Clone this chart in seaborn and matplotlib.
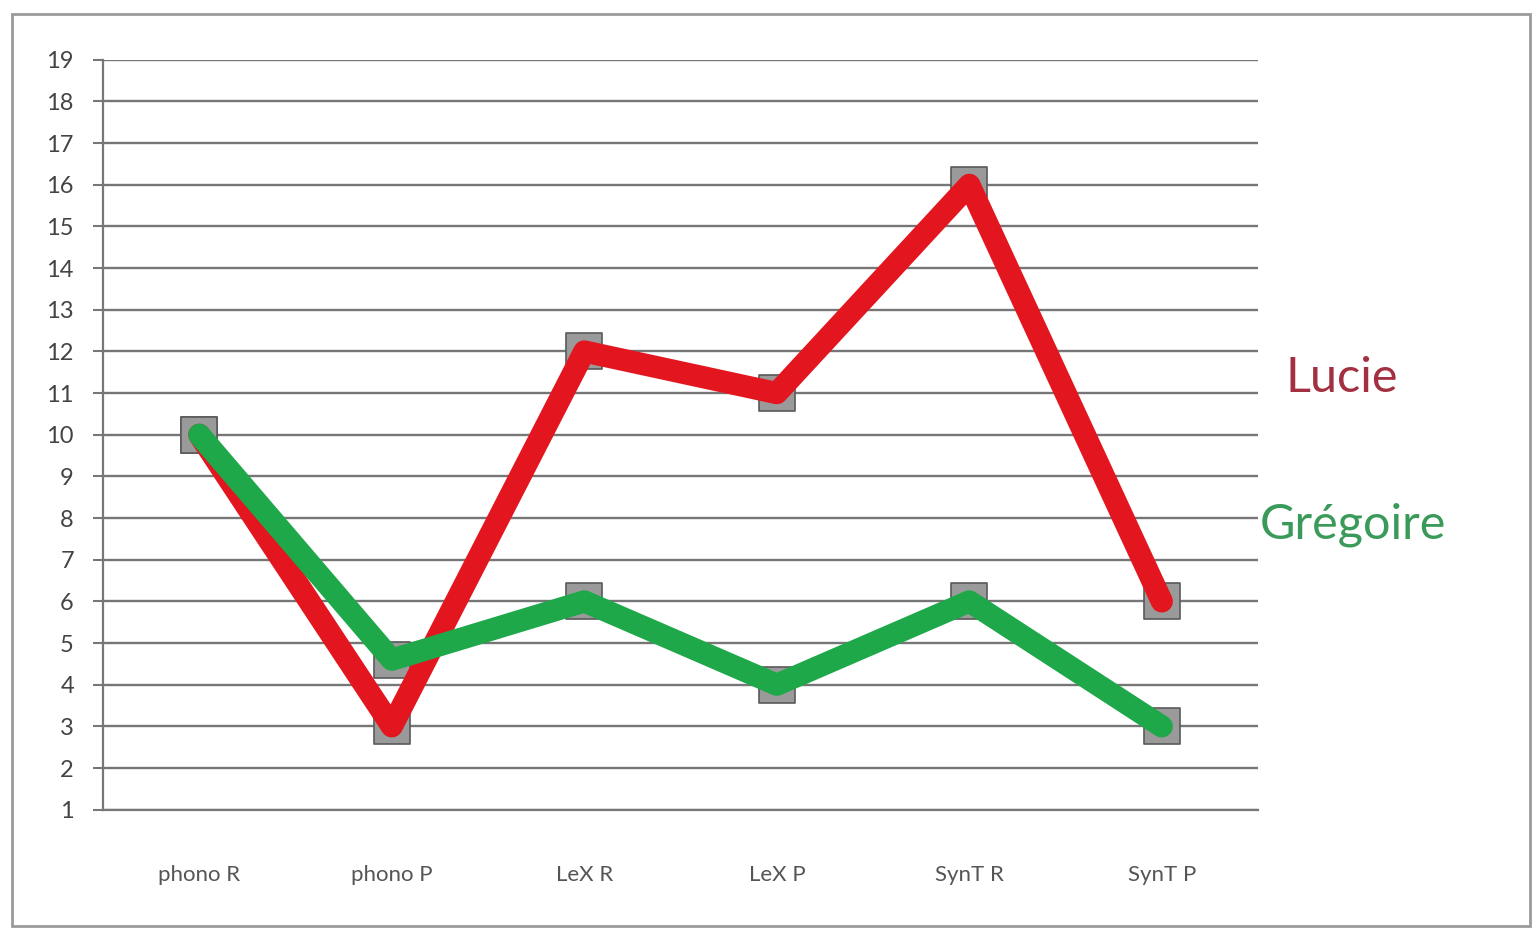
import matplotlib
matplotlib.use("Agg")
import matplotlib.pyplot as plt
from matplotlib.patches import Rectangle
from matplotlib.ticker import MultipleLocator, FixedLocator
import pandas as pd
import seaborn as sns

# Scores per exercise
categories = ["phono R", "phono P", "LeX R", "LeX P", "SynT R", "SynT P"]
lucie = [10, 3, 12, 11, 16, 6]
gregoire = [10, 4.6, 6, 4, 6, 3]
series_names = ["Lucie", "Grégoire"]
y_ticks = list(range(1, 20))

df = pd.DataFrame({
    "cat": categories * 2,
    "score": lucie + gregoire,
    "who": [series_names[0]] * len(categories) + [series_names[1]] * len(categories),
})
df["pos"] = list(range(len(categories))) * 2

sns.set_theme(style="white")
plt.rcParams["font.family"] = ["Lato", "DejaVu Sans"]

fig = plt.figure(figsize=(15.38, 9.35), dpi=100)
fig.patch.set_facecolor("white")
ax = fig.add_axes([0.067, 0.134, 0.751, 0.802])

palette = {"Lucie": "#e3161f", "Grégoire": "#1ea84a"}

# grey square markers sit underneath the thick lines
sns.scatterplot(data=df, x="pos", y="score", marker="s", s=650,
                color="#9a9a9a", edgecolor="#5a5a5a", linewidth=1.2,
                ax=ax, zorder=3, legend=False)
sns.lineplot(data=df[df.who == "Lucie"], x="pos", y="score", color=palette["Lucie"],
             linewidth=16, ax=ax, zorder=4, legend=False, sort=False)
sns.lineplot(data=df[df.who == "Grégoire"], x="pos", y="score", color=palette["Grégoire"],
             linewidth=16, ax=ax, zorder=5, legend=False, sort=False)

ax.set_xlim(-0.5, len(categories) - 0.5)
ax.set_ylim(1, 19)
ax.set_xlabel("")
ax.set_ylabel("")

ax.yaxis.set_major_locator(FixedLocator(y_ticks))
ax.set_yticklabels([str(v) for v in y_ticks])
ax.grid(axis="y", color="#767676", linewidth=1.7, zorder=1)
ax.grid(axis="x", visible=False)
ax.set_axisbelow(True)

ax.set_xticks(range(len(categories)))
ax.set_xticklabels(categories)
ax.xaxis.set_minor_locator(MultipleLocator(1, offset=0.5))
ax.tick_params(axis="x", which="major", length=0, pad=40, labelsize=16, labelcolor="#555555")
ax.tick_params(axis="x", which="minor", length=7, width=1.5, color="#777777", direction="out")
ax.tick_params(axis="y", which="major", length=7, width=1.5, color="#777777", direction="out",
               left=True, pad=14, labelsize=17, labelcolor="#444444")

for side in ["top", "right"]:
    ax.spines[side].set_visible(False)
for side in ["left", "bottom"]:
    ax.spines[side].set_color("#777777")
    ax.spines[side].set_linewidth(1.6)

# series names written beside the plot
ax.text(5.64, 11.37, "Lucie", color="#a23040", fontsize=35, va="center", ha="left", clip_on=False)
ax.text(5.51, 7.84, "Grégoire", color="#3a9a5a", fontsize=35, va="center", ha="left", clip_on=False)

# outer frame
fig.patches.append(Rectangle((0.008, 0.01), 0.987, 0.975, transform=fig.transFigure,
                             fill=False, edgecolor="#9a9a9a", linewidth=2))

fig.savefig("out.png", dpi=100)
